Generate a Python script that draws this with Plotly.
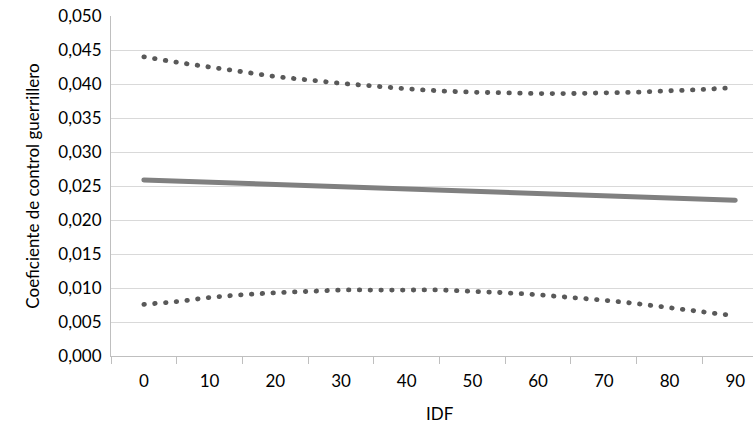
import plotly.graph_objects as go

idf = [0, 5, 10, 15, 20, 25, 30, 35, 40, 45, 50, 55, 60, 65, 70, 75, 80, 85, 90]
upper = [0.0440, 0.0432, 0.0425, 0.0418, 0.0411, 0.0406, 0.0401, 0.0397, 0.0393, 0.0390,
         0.0388, 0.0387, 0.0386, 0.0386, 0.0387, 0.0388, 0.0390, 0.0392, 0.0395]
lower = [0.0076, 0.0080, 0.0086, 0.0090, 0.0093, 0.0095, 0.0097, 0.0097, 0.0097, 0.0097,
         0.0095, 0.0093, 0.0090, 0.0086, 0.0082, 0.0077, 0.0071, 0.0065, 0.0059]
idf_line = [0, 90]
coef = [0.0259, 0.0229]
x_ticks = [0, 10, 20, 30, 40, 50, 60, 70, 80, 90]
x_minor = [-5, 5, 15, 25, 35, 45, 55, 65, 75, 85]
y_ticks = [0.000, 0.005, 0.010, 0.015, 0.020, 0.025, 0.030, 0.035, 0.040, 0.045, 0.050]

FONT = "Lato"
FS = 17
fig = go.Figure()
dot_style = dict(color="#595959", width=4.8, dash="0.5px,10.3px", shape="spline")
fig.add_trace(go.Scatter(x=idf, y=upper, mode="lines", line=dot_style, hoverinfo="skip"))
fig.add_trace(go.Scatter(x=idf, y=lower, mode="lines", line=dot_style, hoverinfo="skip"))
fig.add_trace(go.Scatter(x=idf_line, y=coef, mode="lines",
                         line=dict(color="#808080", width=5), hoverinfo="skip"))

fig.update_layout(
    width=753, height=424,
    margin=dict(l=111, r=0, t=16, b=68),
    paper_bgcolor="white", plot_bgcolor="white",
    showlegend=False,
    separators=",.",
    font=dict(family=FONT, size=FS, color="#000000"),
    xaxis=dict(
        range=[-5, 92.7], tickmode="array", tickvals=x_ticks,
        ticktext=[str(v) for v in x_ticks], ticks="", showgrid=False,
        zeroline=False, showline=True, linecolor="#bfbfbf", linewidth=1,
        ticklabelstandoff=10,
        minor=dict(tickmode="array", tickvals=x_minor, ticks="outside",
                   ticklen=7, tickcolor="#bfbfbf", tickwidth=1, showgrid=False),
    ),
    yaxis=dict(
        range=[0, 0.05], tickmode="array", tickvals=y_ticks, tickformat=".3f",
        ticks="", showgrid=True, gridcolor="#d9d9d9", gridwidth=1,
        zeroline=False, showline=True, linecolor="#bfbfbf", linewidth=1,
        ticklabelstandoff=5,
        title=dict(text="Coeficiente de control guerrillero", standoff=14, font=dict(size=FS)),
    ),
    annotations=[dict(text="IDF", xref="paper", yref="paper", x=0.5125, y=-0.168,
                      xanchor="center", yanchor="middle", showarrow=False,
                      font=dict(size=FS))],
)

post = """
document.querySelectorAll('.js-line').forEach(function(p){p.style.strokeLinecap='round';});
"""
fig.write_html("out.html", post_script=post)
